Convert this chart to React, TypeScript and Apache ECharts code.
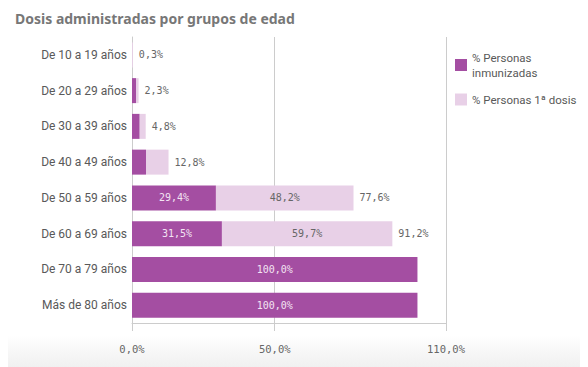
import React, { useEffect, useRef } from "react";
import * as echarts from "echarts";

const categories = [
  "De 10 a 19 años",
  "De 20 a 29 años",
  "De 30 a 39 años",
  "De 40 a 49 años",
  "De 50 a 59 años",
  "De 60 a 69 años",
  "De 70 a 79 años",
  "Más de 80 años",
];
const inmunizadas = [0, 1.4, 2.7, 4.9, 29.4, 31.5, 100, 100];
const primeraDosis = [0.3, 0.9, 2.1, 7.9, 48.2, 59.7, 0, 0];
const totals: (number | null)[] = [0.3, 2.3, 4.8, 12.8, 77.6, 91.2, null, null];
const xTicks = [0, 50, 110];

const fmt = (v: number) => v.toFixed(1).replace(".", ",") + "%";
const DARK = "#a44ea2";
const LIGHT = "#e8d0e7";
const MONO = "'DejaVu Sans Mono', monospace";
const SANS = "Roboto, 'Noto Sans', sans-serif";

export default function App() {
  const ref = useRef<HTMLDivElement>(null);
  useEffect(() => {
    if (!ref.current) return;
    const chart = echarts.init(ref.current, undefined, { renderer: "svg" });
    chart.setOption({
      animation: false,
      backgroundColor: "#ffffff",
      title: {
        text: "Dosis administradas por grupos de edad",
        left: 10,
        top: 6,
        textStyle: { fontFamily: "'Noto Sans'", fontSize: 14, fontWeight: "bold", color: "#777777" },
      },
      graphic: [
        {
          type: "rect",
          z: -10,
          silent: true,
          shape: { x: 0, y: 335, width: 588, height: 32 },
          style: {
            fill: new echarts.graphic.LinearGradient(0, 0, 0, 1, [
              { offset: 0, color: "#ffffff" },
              { offset: 1, color: "#f0f0f0" },
            ]),
          },
        },
      ],
      legend: {
        orient: "vertical",
        left: 455,
        top: 50,
        padding: 0,
        icon: "rect",
        itemWidth: 12,
        itemHeight: 12,
        itemGap: 12,
        data: ["% Personas inmunizadas", "% Personas 1ª dosis"],
        formatter: (n: string) => (n === "% Personas inmunizadas" ? "% Personas\ninmunizadas" : n),
        textStyle: { fontFamily: SANS, fontSize: 11.5, color: "#595959", lineHeight: 15 },
      },
      grid: { left: 132, right: 142, top: 37, bottom: 44, containLabel: false },
      xAxis: {
        type: "value",
        min: 0,
        max: 110,
        interval: 10,
        axisLine: { show: true, lineStyle: { color: "#cccccc" } },
        axisTick: { show: true, length: 8, customValues: xTicks, lineStyle: { color: "#cccccc" } },
        axisLabel: {
          customValues: xTicks,
          formatter: (v: number) => fmt(v),
          fontFamily: MONO,
          fontSize: 10.5,
          color: "#666666",
          margin: 20,
        },
        splitLine: { show: true, lineStyle: { color: "#cccccc" } },
      },
      yAxis: {
        type: "category",
        data: categories,
        inverse: true,
        axisLine: { show: true, lineStyle: { color: "#cccccc" } },
        axisTick: { show: false },
        axisLabel: { fontFamily: SANS, fontSize: 12, color: "#595959", margin: 5 },
      },
      series: [
        {
          name: "% Personas inmunizadas",
          type: "bar",
          stack: "t",
          barWidth: 25,
          itemStyle: { color: DARK },
          data: inmunizadas.map((v) => ({
            value: v,
            label: {
              show: v >= 20,
              position: "inside",
              formatter: () => fmt(v),
              color: "#f3e4f3",
              fontFamily: MONO,
              fontSize: 10,
            },
          })),
        },
        {
          name: "% Personas 1ª dosis",
          type: "bar",
          stack: "t",
          barWidth: 25,
          itemStyle: { color: LIGHT },
          data: primeraDosis.map((v) => ({
            value: v,
            label: {
              show: v >= 20,
              position: "inside",
              formatter: () => fmt(v),
              color: "#666666",
              fontFamily: MONO,
              fontSize: 10,
            },
          })),
        },
        {
          name: "total",
          type: "bar",
          barWidth: 25,
          barGap: "-100%",
          silent: true,
          itemStyle: { color: "rgba(0,0,0,0)" },
          data: totals,
          label: {
            show: true,
            position: "right",
            distance: 6,
            formatter: (p: any) => (p.value == null ? "" : fmt(p.value)),
            color: "#666666",
            fontFamily: MONO,
            fontSize: 10,
          },
        },
      ],
    });
    return () => chart.dispose();
  }, []);
  return <div ref={ref} style={{ width: 588, height: 367, marginLeft: -8, marginTop: -8 }} />;
}
